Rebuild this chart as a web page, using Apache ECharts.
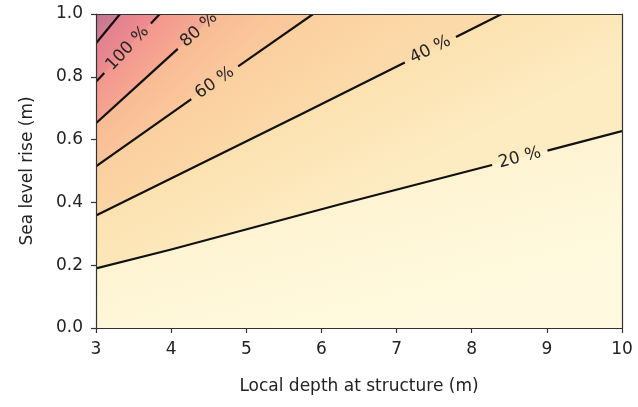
<!DOCTYPE html>
<html>
<head>
<meta charset="utf-8">
<script src="https://cdn.jsdelivr.net/npm/echarts@6/dist/echarts.min.js"></script>
<style>
  html, body { margin: 0; padding: 0; background: #ffffff; }
  #chart { width: 638px; height: 407px; }
</style>
</head>
<body>
<div id="chart"></div>
<script>
// Axis extents
const depthRange = [3, 10];
const slrRange = [0, 1];

// Contour levels (%) and the [depth, sea level rise] points of each contour line
const levels = [20, 40, 60, 80, 100, 120];
const contour20 = [[3, 0.19], [4, 0.25], [6.25, 0.394], [8.27, 0.519], [10, 0.627]];
const contour40 = [[3, 0.358], [5.71, 0.678], [8.40, 1.0]];
const contour60 = [[3, 0.515], [4.25, 0.726], [5.89, 1.0]];
const contour80 = [[3, 0.652], [4.07, 0.885], [4.60, 1.0]];
const contour100 = [[3, 0.784], [3.85, 1.0]];
const contour120 = [[3, 0.907], [3.32, 1.0]];
const contours = [contour20, contour40, contour60, contour80, contour100, contour120];

// Which contours carry an inline label, and the depth at which it sits
const labelled = [true, true, true, true, true, false];
const labelDepth = [8.64, 7.45, 4.58, 4.37, 3.42, null];

// Fill of each band between successive contours: colour at its lower and upper edge
const bandLowColors  = ['#fffadf', '#fdecc2', '#fcd9a9', '#fbc89c', '#f6a892', '#ee8c8e', '#d27e93'];
const bandHighColors = ['#fef4d3', '#fce2b1', '#fbd09f', '#f9bb95', '#f2978e', '#e28190', '#c07392'];

const FONT = '"DejaVu Sans", "Liberation Sans", sans-serif';
const LABEL_FONT_SIZE = 17;

const measureCtx = document.createElement('canvas').getContext('2d');
function textWidth(txt, size) {
  measureCtx.font = size + 'px ' + FONT;
  return measureCtx.measureText(txt).width;
}

// Polygon of band i: between the lower boundary and the upper one
function bandPolygon(i) {
  const [x0, x1] = depthRange;
  const [y0, y1] = slrRange;
  const lower = i === 0 ? [[x0, y0], [x1, y0]] : contours[i - 1];
  const upper = i === contours.length ? [[x0, y1]] : contours[i];
  const pts = lower.slice();
  const endL = lower[lower.length - 1];
  const endU = upper[upper.length - 1];
  if (endL[0] === x1 && endU[1] === y1 && endU[0] < x1) pts.push([x1, y1]);
  for (let k = upper.length - 1; k >= 0; k--) pts.push(upper[k]);
  return { pts, lower, upper };
}

function footOnLine(p, a, b) {
  const dx = b[0] - a[0], dy = b[1] - a[1];
  const t = ((p[0] - a[0]) * dx + (p[1] - a[1]) * dy) / (dx * dx + dy * dy);
  return [a[0] + t * dx, a[1] + t * dy];
}

function renderBand(params, api) {
  const i = api.value(2);
  const { pts, lower, upper } = bandPolygon(i);
  const px = pts.map(p => api.coord(p));
  const lp = lower.map(p => api.coord(p));
  const up = upper.map(p => api.coord(p));
  const a = lp[0], b = lp[lp.length - 1];
  const mid = [(a[0] + b[0]) / 2, (a[1] + b[1]) / 2];
  const end = up.length > 1 ? footOnLine(mid, up[0], up[up.length - 1]) : up[0];
  const fill = new echarts.graphic.LinearGradient(mid[0], mid[1], end[0], end[1], [
    { offset: 0, color: bandLowColors[i] },
    { offset: 1, color: bandHighColors[i] }
  ], true);
  return {
    type: 'polygon',
    shape: { points: px },
    style: { fill: fill, stroke: fill, lineWidth: 0.6 }
  };
}

// Sub-polyline between two arc-length positions
function slicePolyline(p, s0, s1) {
  const out = [];
  let acc = 0;
  for (let k = 0; k < p.length - 1; k++) {
    const a = p[k], b = p[k + 1];
    const len = Math.hypot(b[0] - a[0], b[1] - a[1]);
    const segStart = acc, segEnd = acc + len;
    if (segEnd >= s0 && segStart <= s1) {
      const t0 = Math.max(0, (s0 - segStart) / len);
      const t1 = Math.min(1, (s1 - segStart) / len);
      const q0 = [a[0] + t0 * (b[0] - a[0]), a[1] + t0 * (b[1] - a[1])];
      const q1 = [a[0] + t1 * (b[0] - a[0]), a[1] + t1 * (b[1] - a[1])];
      if (!out.length) out.push(q0);
      out.push(q1);
    }
    acc = segEnd;
  }
  return out;
}

function renderContour(params, api) {
  const i = api.value(2);
  const px = contours[i].map(p => api.coord(p));
  let total = 0;
  const cum = [0];
  for (let k = 0; k < px.length - 1; k++) {
    total += Math.hypot(px[k + 1][0] - px[k][0], px[k + 1][1] - px[k][1]);
    cum.push(total);
  }
  const lineStyle = { stroke: '#111111', lineWidth: 2.2, fill: null };
  if (!labelled[i]) {
    return { type: 'polyline', shape: { points: px }, style: lineStyle };
  }
  const cx = api.coord([labelDepth[i], 0])[0];
  let center = px[0], angle = 0, sC = 0;
  for (let k = 0; k < px.length - 1; k++) {
    const a = px[k], b = px[k + 1];
    if (cx >= a[0] && cx <= b[0]) {
      const t = (cx - a[0]) / (b[0] - a[0]);
      center = [a[0] + t * (b[0] - a[0]), a[1] + t * (b[1] - a[1])];
      angle = Math.atan2(a[1] - b[1], b[0] - a[0]);
      sC = cum[k] + t * (cum[k + 1] - cum[k]);
      break;
    }
  }
  const txt = levels[i] + ' %';
  const half = (textWidth(txt, LABEL_FONT_SIZE) + 14) / 2;
  const children = [];
  const before = slicePolyline(px, 0, sC - half);
  const after = slicePolyline(px, sC + half, total);
  if (before.length > 1) children.push({ type: 'polyline', shape: { points: before }, style: lineStyle });
  if (after.length > 1) children.push({ type: 'polyline', shape: { points: after }, style: lineStyle });
  children.push({
    type: 'text',
    x: center[0], y: center[1],
    rotation: angle,
    style: {
      text: txt, align: 'center', verticalAlign: 'middle',
      font: LABEL_FONT_SIZE + 'px ' + FONT, fill: '#262626'
    }
  });
  return { type: 'group', children };
}

const bandData = [];
for (let i = 0; i <= contours.length; i++) bandData.push([depthRange[0], slrRange[0], i]);
const contourData = contours.map((c, i) => [depthRange[0], slrRange[0], i]);

const axisColor = '#333333';
const chart = echarts.init(document.getElementById('chart'), null, { renderer: 'canvas' });
chart.setOption({
  animation: false,
  backgroundColor: '#ffffff',
  textStyle: { fontFamily: FONT },
  grid: { left: 96, right: 16, top: 14, bottom: 79 },
  xAxis: [{
    type: 'value', min: depthRange[0], max: depthRange[1], interval: 1, z: 10,
    name: 'Local depth at structure (m)', nameLocation: 'middle', nameGap: 50,
    nameTextStyle: { fontSize: 17, color: '#222', fontFamily: FONT },
    axisLine: { show: true, onZero: false, lineStyle: { color: axisColor, width: 1.2 } },
    axisTick: { show: true, length: 5, lineStyle: { color: axisColor, width: 1.2 } },
    axisLabel: { fontSize: 17, color: '#222', margin: 13, fontFamily: FONT },
    splitLine: { show: false }
  }, {
    type: 'value', position: 'top', min: depthRange[0], max: depthRange[1], z: 10,
    axisLine: { show: true, onZero: false, lineStyle: { color: axisColor, width: 1.2 } },
    axisTick: { show: false }, axisLabel: { show: false }, splitLine: { show: false }
  }],
  yAxis: [{
    type: 'value', min: slrRange[0], max: slrRange[1], interval: 0.2, z: 10,
    name: 'Sea level rise (m)', nameLocation: 'middle', nameGap: 60, nameRotate: 90,
    nameTextStyle: { fontSize: 17, color: '#222', fontFamily: FONT },
    axisLine: { show: true, onZero: false, lineStyle: { color: axisColor, width: 1.2 } },
    axisTick: { show: true, length: 5, lineStyle: { color: axisColor, width: 1.2 } },
    axisLabel: { fontSize: 17, color: '#222', margin: 13, fontFamily: FONT, formatter: v => v.toFixed(1) },
    splitLine: { show: false }
  }, {
    type: 'value', position: 'right', min: slrRange[0], max: slrRange[1], z: 10,
    axisLine: { show: true, onZero: false, lineStyle: { color: axisColor, width: 1.2 } },
    axisTick: { show: false }, axisLabel: { show: false }, splitLine: { show: false }
  }],
  series: [{
    type: 'custom', name: 'bands', coordinateSystem: 'cartesian2d',
    xAxisIndex: 0, yAxisIndex: 0, clip: true, z: 2,
    encode: { x: 0, y: 1 },
    renderItem: renderBand, data: bandData
  }, {
    type: 'custom', name: 'contours', coordinateSystem: 'cartesian2d',
    xAxisIndex: 0, yAxisIndex: 0, clip: true, z: 3,
    encode: { x: 0, y: 1 },
    renderItem: renderContour, data: contourData
  }]
});
</script>
</body>
</html>
